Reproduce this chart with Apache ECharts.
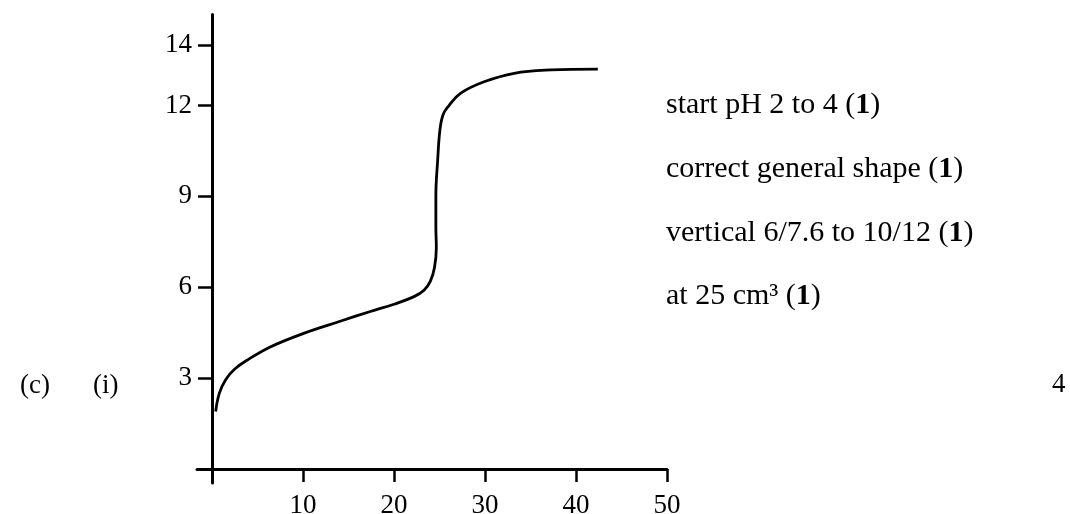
<!DOCTYPE html>
<html>
<head>
<meta charset="utf-8">
<script src="https://cdn.jsdelivr.net/npm/echarts@6/dist/echarts.min.js"></script>
<style>
html,body{margin:0;padding:0;background:#fff;}
#c{width:1070px;height:514px;}
</style>
</head>
<body>
<div id="c"></div>
<script>
// Volume of base added (cm3) and pH
const volume = [0.4, 0.8, 1.5, 2.5, 4.0, 6.4, 10, 14, 17.4, 20, 22.2, 23.3, 24.0, 24.45, 24.65, 24.6, 24.6, 24.8, 25.05, 25.4, 26.0, 27.3, 29.9, 33.2, 37.2, 42.4];
const pH     = [1.9, 2.5, 2.95, 3.3, 3.62, 4.03, 4.47, 4.87, 5.2, 5.44, 5.69, 5.9, 6.2, 6.65, 7.3, 8.0, 9.0, 10.2, 11.2, 11.7, 11.98, 12.4, 12.78, 13.06, 13.17, 13.2];
const xTicks = [10, 20, 30, 40, 50];
const yTicks = [3, 6, 9, 12, 14];
const notes = [
  ['start pH 2 to 4 (', '1', ')'],
  ['correct general shape (', '1', ')'],
  ['vertical 6/7.6 to 10/12 (', '1', ')'],
  ['at 25 cm³ (', '1', ')']
];
const leftLabels = ['(c)', '(i)'];
const rightMark = '4';

const FONT = '"Liberation Serif", "Times New Roman", serif';
const chart = echarts.init(document.getElementById('c'));

const graphics = [];
notes.forEach((n, i) => {
  graphics.push({
    type: 'text', left: 666, top: 90.5 + i * 63.7,
    style: {
      text: '{a|' + n[0] + '}{b|' + n[1] + '}{a|' + n[2] + '}',
      rich: {
        a: {fontFamily: FONT, fontSize: 30, fill: '#000'},
        b: {fontFamily: FONT, fontSize: 30, fontWeight: 'bold', fill: '#000'}
      }
    }
  });
});
graphics.push({type: 'text', left: 20, top: 372, style: {text: leftLabels[0], fontFamily: FONT, fontSize: 27, fill: '#000'}});
graphics.push({type: 'text', left: 93, top: 372, style: {text: leftLabels[1], fontFamily: FONT, fontSize: 27, fill: '#000'}});
graphics.push({type: 'text', left: 1052, top: 371, style: {text: rightMark, fontFamily: FONT, fontSize: 27, fill: '#000'}});

chart.setOption({
  animation: false,
  backgroundColor: '#fff',
  grid: {left: 197, right: 403, top: 14.5, bottom: 31, containLabel: false, outerBoundsMode: 'none'},
  xAxis: {
    type: 'value', min: -1.65, max: 50,
    axisLine: {onZero: true, lineStyle: {color: '#000', width: 3}},
    axisTick: {show: true, inside: false, length: 13, customValues: xTicks, lineStyle: {color: '#000', width: 2.5}},
    axisLabel: {customValues: xTicks, margin: 9, fontFamily: FONT, fontSize: 27, color: '#000'},
    splitLine: {show: false}
  },
  yAxis: {
    type: 'value', min: -0.46, max: 15,
    axisLine: {onZero: true, lineStyle: {color: '#000', width: 3}},
    axisTick: {show: true, inside: false, length: 14, customValues: yTicks, lineStyle: {color: '#000', width: 2.5}},
    axisLabel: {customValues: yTicks, margin: 5, fontFamily: FONT, fontSize: 27, color: '#000'},
    splitLine: {show: false}
  },
  series: [{
    type: 'line',
    data: volume.map((v, i) => [v, pH[i]]),
    showSymbol: false,
    smooth: 0.4,
    lineStyle: {color: '#000', width: 2.8},
    clip: false
  }],
  graphic: graphics
});
</script>
</body>
</html>
